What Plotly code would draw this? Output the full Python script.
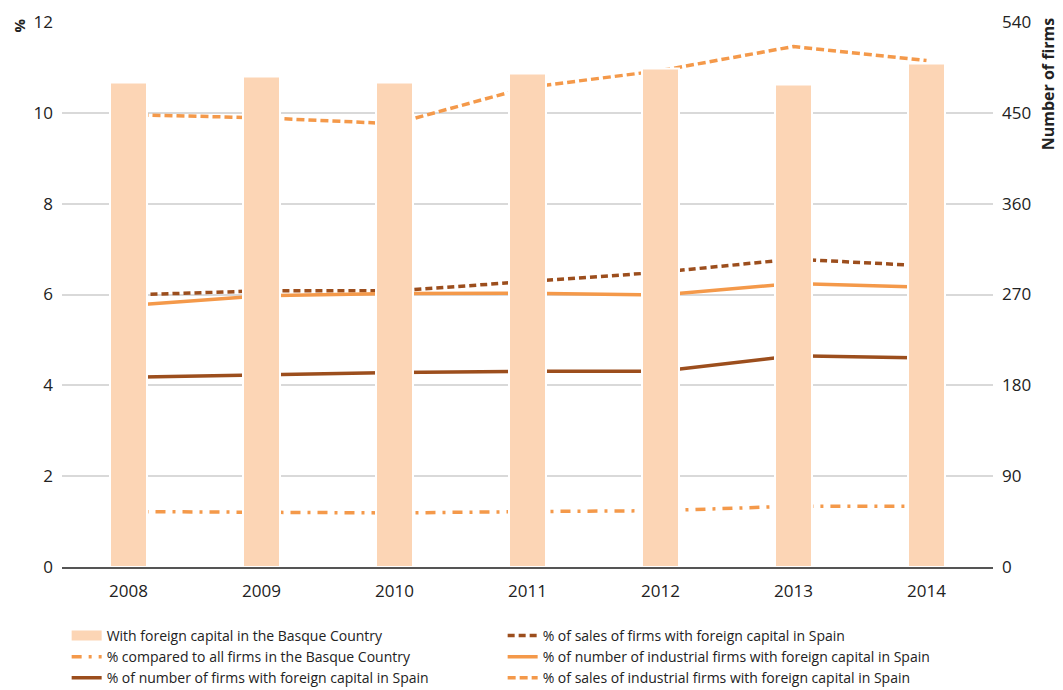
import plotly.graph_objects as go

years = [2008, 2009, 2010, 2011, 2012, 2013, 2014]
firms_basque = [480, 486, 480, 489, 494, 478, 499]
pct_all_basque = [1.22, 1.20, 1.19, 1.22, 1.24, 1.34, 1.34]
pct_num_spain = [4.18, 4.23, 4.28, 4.31, 4.31, 4.65, 4.60]
pct_sales_spain = [5.99, 6.08, 6.08, 6.29, 6.49, 6.78, 6.63]
pct_num_ind_spain = [5.76, 5.97, 6.02, 6.03, 5.99, 6.24, 6.16]
pct_sales_ind_spain = [9.96, 9.89, 9.76, 10.56, 10.93, 11.46, 11.15]

left_ticks = [0, 2, 4, 6, 8, 10, 12]
right_ticks = [0, 90, 180, 270, 360, 450, 540]

PEACH = "#FCD5B5"
ORANGE = "#F4994A"
BROWN = "#9C4E1D"

fig = go.Figure()
fig.add_trace(go.Bar(
    x=years, y=firms_basque, yaxis="y2", width=0.278,
    marker=dict(color=PEACH, line=dict(color="white", width=2)),
    name="With foreign capital in the Basque Country", showlegend=False))
# legend entry for the bars (wide rectangle swatch as in the reference)
fig.add_trace(go.Scatter(
    x=[None], y=[None], mode="lines", line=dict(color=PEACH, width=11),
    name="With foreign capital in the Basque Country", legendrank=1))
fig.add_trace(go.Scatter(
    x=years, y=pct_all_basque, mode="lines",
    line=dict(color=ORANGE, width=3.5, dash="10px,7px,3px,7px"),
    name="% compared to all firms in the Basque Country", legendrank=3))
fig.add_trace(go.Scatter(
    x=years, y=pct_num_spain, mode="lines",
    line=dict(color=BROWN, width=3.5),
    name="% of number of firms with foreign capital in Spain", legendrank=5))
fig.add_trace(go.Scatter(
    x=years, y=pct_sales_spain, mode="lines",
    line=dict(color=BROWN, width=3.5, dash="7px,4px"),
    name="% of sales of firms with foreign capital in Spain", legendrank=2))
fig.add_trace(go.Scatter(
    x=years, y=pct_num_ind_spain, mode="lines",
    line=dict(color=ORANGE, width=3.5),
    name="% of number of industrial firms with foreign capital in Spain", legendrank=4))
fig.add_trace(go.Scatter(
    x=years, y=pct_sales_ind_spain, mode="lines",
    line=dict(color=ORANGE, width=3.5, dash="8px,4px"),
    name="% of sales of industrial firms with foreign capital in Spain", legendrank=6))

tickfont = dict(family="Open Sans", size=17, color="#222")
fig.update_layout(
    width=1055, height=682,
    margin=dict(l=54, r=70, t=14, b=123, autoexpand=False),
    plot_bgcolor="white", paper_bgcolor="white",
    font=dict(family="Open Sans", color="#222"),
    xaxis=dict(range=[2007.5, 2014.5], tickvals=years, ticktext=[str(y) for y in years],
               showgrid=False, zeroline=False, showline=True, linecolor="#555", linewidth=2,
               ticks="", tickfont=tickfont, ticklabelstandoff=8),
    yaxis=dict(range=[0, 12], tickvals=left_ticks, showgrid=True, gridcolor="#D9D9D9", gridwidth=2,
               zeroline=False, showline=False, ticks="", tickfont=tickfont, ticklabelstandoff=8),
    yaxis2=dict(range=[0, 540], tickvals=right_ticks, overlaying="y", side="right", showgrid=False,
                zeroline=False, showline=False, ticks="", tickfont=tickfont, ticklabelstandoff=8),
    showlegend=True,
    legend=dict(orientation="h", x=0.005, xanchor="left", y=-0.097, yanchor="top",
                entrywidth=391, entrywidthmode="pixels", traceorder="normal",
                font=dict(family="Open Sans", size=14, color="#222")),
    annotations=[
        dict(text="<b>%</b>", xref="paper", yref="paper", x=-0.0457, y=0.9945, xanchor="center",
             yanchor="middle", textangle=-90, showarrow=False,
             font=dict(family="Open Sans", size=15, color="#222")),
        dict(text="<b>Number of firms</b>", xref="paper", yref="paper", x=1.0588, y=1.0128,
             xanchor="center", yanchor="top", textangle=-90, showarrow=False,
             font=dict(family="Open Sans", size=16, color="#222")),
    ],
)
fig.write_html("out.html")
